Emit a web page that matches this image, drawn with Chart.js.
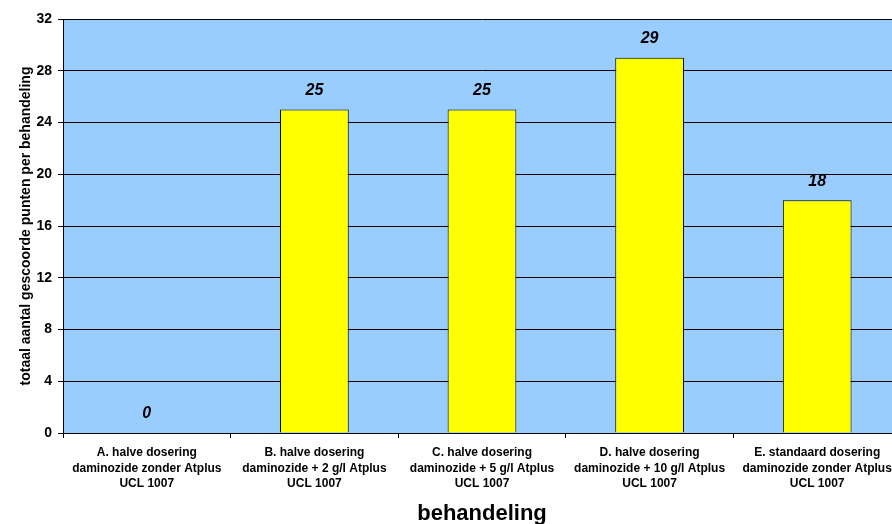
<!DOCTYPE html>
<html>
<head>
<meta charset="utf-8">
<script src="https://cdn.jsdelivr.net/npm/chart.js@4/dist/chart.umd.min.js"></script>
<style>
  html, body { margin: 0; padding: 0; background: #fff; overflow: hidden; }
  #wrap { width: 901px; height: 524px; }
</style>
</head>
<body>
<div id="wrap"><canvas id="myChart"></canvas></div>
<script>
const categories = [
    ['A. halve dosering', 'daminozide zonder Atplus', 'UCL 1007'],
    ['B. halve dosering', 'daminozide + 2 g/l Atplus', 'UCL 1007'],
    ['C. halve dosering', 'daminozide + 5 g/l Atplus', 'UCL 1007'],
    ['D. halve dosering', 'daminozide + 10 g/l Atplus', 'UCL 1007'],
    ['E. standaard dosering', 'daminozide zonder Atplus', 'UCL 1007']
];
const scores = [0, 25, 25, 29, 18];
const yTicks = [0, 4, 8, 12, 16, 20, 24, 28, 32];

// blue plot background
const plotBackground = {
    id: 'plotBackground',
    beforeDraw(chart) {
        const { ctx, chartArea } = chart;
        ctx.save();
        ctx.fillStyle = '#99CCFF';
        ctx.fillRect(chartArea.left, chartArea.top, chartArea.right - chartArea.left, chartArea.bottom - chartArea.top);
        ctx.restore();
    }
};

// value labels above bars
const valueLabels = {
    id: 'valueLabels',
    afterDatasetsDraw(chart) {
        const ctx = chart.ctx;
        const meta = chart.getDatasetMeta(0);
        ctx.save();
        ctx.font = 'italic bold 16px "Liberation Sans", Arial, sans-serif';
        ctx.fillStyle = '#000';
        ctx.textAlign = 'center';
        ctx.textBaseline = 'middle';
        meta.data.forEach((bar, i) => {
            ctx.fillText(String(scores[i]), bar.x, bar.y - 19);
        });
        ctx.restore();
    }
};

document.addEventListener('DOMContentLoaded', function() {
    const ctx = document.getElementById('myChart').getContext('2d');
    new Chart(ctx, {
        type: 'bar',
        data: {
            labels: categories,
            datasets: [{
                data: scores,
                backgroundColor: '#FFFF00',
                borderColor: '#000000',
                borderWidth: 1,
                categoryPercentage: 1,
                barPercentage: 0.41
            }]
        },
        options: {
            responsive: true,
            maintainAspectRatio: false,
            animation: false,
            layout: { padding: { top: 19, left: 0, right: 0, bottom: 0 } },
            plugins: {
                legend: { display: false },
                tooltip: { enabled: false }
            },
            scales: {
                x: {
                    grid: {
                        offset: true,
                        drawOnChartArea: false,
                        drawTicks: true,
                        tickLength: 5,
                        color: '#000'
                    },
                    border: { color: '#000', width: 1 },
                    ticks: {
                        color: '#000',
                        maxRotation: 0,
                        autoSkip: false,
                        padding: 7,
                        font: { family: '"Liberation Sans", Arial, sans-serif', size: 12, weight: 'bold', lineHeight: 1.3 }
                    },
                    title: {
                        display: true,
                        text: 'behandeling',
                        color: '#000',
                        padding: { top: 0, bottom: -3 },
                        font: { family: '"Liberation Sans", Arial, sans-serif', size: 22, weight: 'bold' }
                    },
                    afterFit(scale) { scale.height = 91; }
                },
                y: {
                    min: 0,
                    max: 32,
                    afterBuildTicks(scale) { scale.ticks = yTicks.map(v => ({ value: v })); },
                    grid: {
                        color: '#000',
                        tickLength: 5,
                        lineWidth: 1
                    },
                    border: { color: '#000', width: 1 },
                    ticks: {
                        color: '#000',
                        padding: 6,
                        font: { family: '"Liberation Sans", Arial, sans-serif', size: 14, weight: 'bold' }
                    },
                    title: {
                        display: true,
                        text: 'totaal aantal gescoorde punten per behandeling',
                        color: '#000',
                        padding: { top: 18, bottom: 0 },
                        font: { family: '"Liberation Sans", Arial, sans-serif', size: 14, weight: 'bold' }
                    },
                    afterFit(scale) { scale.width = 63; }
                }
            }
        },
        plugins: [plotBackground, valueLabels]
    });
});
</script>
</body>
</html>
